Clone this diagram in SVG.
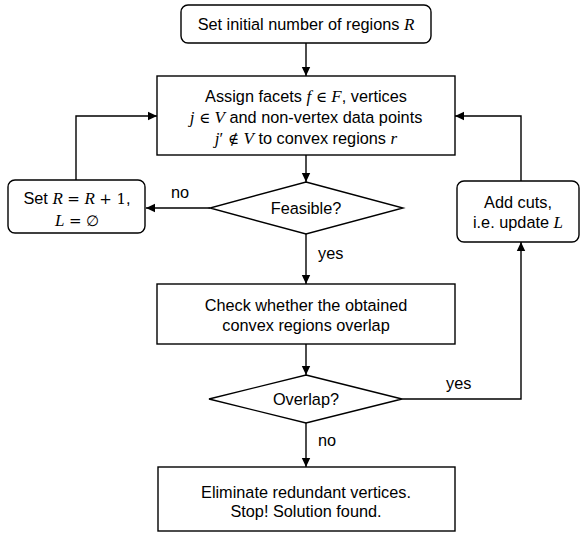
<svg xmlns="http://www.w3.org/2000/svg" width="581" height="534" viewBox="0 0 581 534">
  <defs>
    <marker id="arrow" markerWidth="10" markerHeight="10" refX="9" refY="5" orient="auto" markerUnits="userSpaceOnUse">
      <path d="M0,0.8 L9,5 L0,9.2 Z" fill="#000"/>
    </marker>
    <style>
      .box { fill: #fff; stroke: #000; stroke-width: 1.4; }
      .edge { fill: none; stroke: #000; stroke-width: 1.4; }
      text { font-family: "Liberation Sans", Arial, sans-serif; font-size: 16.3px; fill: #000; text-anchor: middle; }
      .m { font-family: "Liberation Serif", "DejaVu Serif", serif; font-style: italic; font-size: 17px; }
      .s { font-family: "DejaVu Serif", "Liberation Serif", serif; font-style: normal; font-size: 15px; }
      .p { font-family: "Liberation Serif", serif; font-style: normal; font-size: 17px; }
      .lbl { text-anchor: start; }
    </style>
  </defs>
  <rect width="581" height="534" fill="#fff"/>

  <g id="connectors">
    <line class="edge" x1="306" y1="43" x2="306" y2="76" marker-end="url(#arrow)"/>
    <line class="edge" x1="306" y1="155" x2="306" y2="182" marker-end="url(#arrow)"/>
    <line class="edge" x1="210" y1="208" x2="146" y2="208" marker-end="url(#arrow)"/>
    <polyline class="edge" points="76,180 76,116 157,116" marker-end="url(#arrow)"/>
    <line class="edge" x1="306" y1="234" x2="306" y2="284" marker-end="url(#arrow)"/>
    <line class="edge" x1="306" y1="344" x2="306" y2="375" marker-end="url(#arrow)"/>
    <line class="edge" x1="306" y1="423" x2="306" y2="467" marker-end="url(#arrow)"/>
    <polyline class="edge" points="402,399 521,399 521,242" marker-end="url(#arrow)"/>
    <polyline class="edge" points="521,181 521,116 455,116" marker-end="url(#arrow)"/>
    <text class="lbl" x="171" y="198">no</text>
    <text class="lbl" x="318" y="259">yes</text>
    <text class="lbl" x="446" y="389">yes</text>
    <text class="lbl" x="318" y="446">no</text>
  </g>

  <g id="start">
    <rect class="box" x="181" y="5" width="250" height="38" rx="7"/>
    <text x="306" y="30">Set initial number of regions <tspan class="m">R</tspan></text>
  </g>

  <g id="assign">
    <rect class="box" x="157" y="76" width="298" height="79"/>
    <text x="306" y="102">Assign facets <tspan class="m">f</tspan> <tspan class="s">∈</tspan> <tspan class="m">F</tspan>, vertices</text>
    <text x="306" y="123"><tspan class="m">j</tspan> <tspan class="s">∈</tspan> <tspan class="m">V</tspan> and non-vertex data points</text>
    <text x="306" y="144"><tspan class="m">j</tspan><tspan class="p">′</tspan> <tspan class="s">∉</tspan> <tspan class="m">V</tspan> to convex regions <tspan class="m">r</tspan></text>
  </g>

  <g id="feasible">
    <polygon class="box" points="306,182 403,208 306,234 210,208"/>
    <text x="306" y="214">Feasible?</text>
  </g>

  <g id="increase">
    <rect class="box" x="8" y="180" width="137" height="53" rx="7"/>
    <text x="77" y="204">Set <tspan class="m">R</tspan> <tspan class="s">=</tspan> <tspan class="m">R</tspan> <tspan class="s">+</tspan> <tspan class="s">1</tspan>,</text>
    <text x="77" y="226"><tspan class="m">L</tspan> <tspan class="s">=</tspan> <tspan class="s">∅</tspan></text>
  </g>

  <g id="cuts">
    <rect class="box" x="457" y="181" width="122" height="61" rx="7"/>
    <text x="518" y="208">Add cuts,</text>
    <text x="518" y="228">i.e. update <tspan class="m">L</tspan></text>
  </g>

  <g id="check">
    <rect class="box" x="157" y="284" width="298" height="60"/>
    <text x="306" y="311">Check whether the obtained</text>
    <text x="306" y="331">convex regions overlap</text>
  </g>

  <g id="overlap">
    <polygon class="box" points="306,375 402,399 306,423 209,399"/>
    <text x="306" y="405">Overlap?</text>
  </g>

  <g id="finish">
    <rect class="box" x="158" y="467" width="297" height="64"/>
    <text x="306" y="498">Eliminate redundant vertices.</text>
    <text x="306" y="517">Stop! Solution found.</text>
  </g>
</svg>
